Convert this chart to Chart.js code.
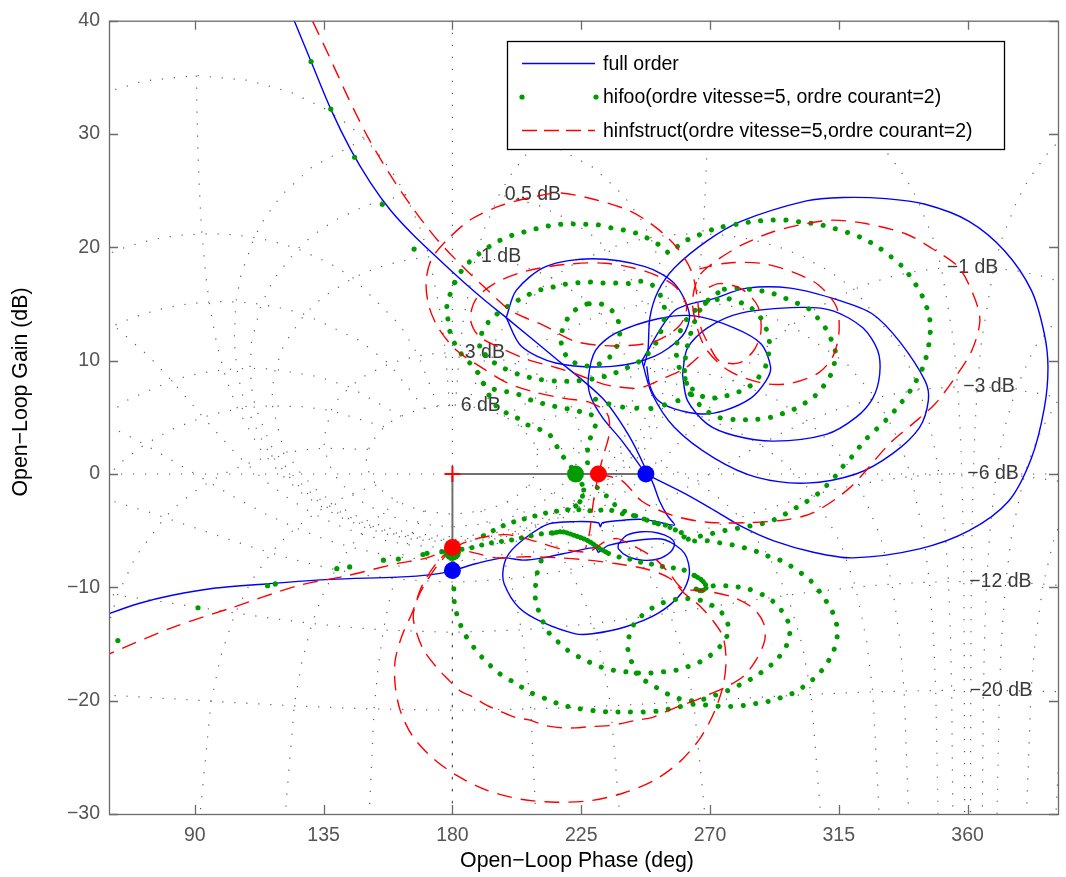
<!DOCTYPE html>
<html><head><meta charset="utf-8">
<script src="https://cdn.jsdelivr.net/npm/chart.js"></script>
<style>html,body{margin:0;padding:0;background:#fff;overflow:hidden;width:1066px;height:877px}canvas{display:block}</style>
</head><body>
<canvas id="c" width="1068" height="877" style="width:1068px;height:877px"></canvas>
<script>
// ---------------- axis ticks ----------------
const xTicks = [90, 135, 180, 225, 270, 315, 360];
const yTicks = [-30, -20, -10, 0, 10, 20, 30, 40];
const legendNames = ['full order', 'hifoo(ordre vitesse=5, ordre courant=2)', 'hinfstruct(ordre vitesse=5,ordre courant=2)'];

// ---------------- stability margin markers ----------------
const marginPhaseAt0dB = { full: 247.6, hifoo: 223.0, hinf: 231.0 };
const marginGainAt180 = { full: -8.52, hifoo: -6.9, hinf: -6.49 };

// ---------------- full order (blue) [phase deg, gain dB] ----------------
const fullOrderBranch = [[121.3,42.1],[124.4,40.2],[130.6,36.4],[137.5,32.2],[144.5,28.6],[151.4,25.7],[158.3,23.3],[165.9,21.2],[174.6,19.1],[183.2,17.1],[191.9,15.2],[198.8,13.8],[216.1,10.2],[232.4,6.7],[241.4,3.5],[247.3,0.55],[247.6,0],[249.7,-0.6],[252.4,-2.4],[255.2,-3.7],[257.6,-4.5],[253.1,-4.3],[246.2,-4.0],[238.6,-4.1],[232.4,-4.3],[231.7,-4.65],[231.0,-4.3],[223.0,-4.2],[213.7,-4.4],[205.7,-5.6],[199.8,-7.0],[197.8,-8.3],[198.1,-9.7],[203.3,-11.8],[211.6,-13.1],[223.0,-14.1],[228.9,-14.1],[240.3,-13.5],[251.8,-12.3],[260.1,-10.5],[262.8,-8.8],[261.1,-7.0],[254.2,-5.8],[246.2,-5.8],[234.5,-6.3],[231.0,-6.9],[230.0,-6.5],[223.0,-6.8],[211.6,-7.4],[204.7,-7.6],[197.8,-7.4],[188.4,-7.9],[180.0,-8.52],[172.1,-8.9],[160.7,-9.1],[137.5,-9.3],[114.7,-9.7],[96.0,-10.1],[82.1,-10.7],[70.7,-11.4],[60.3,-12.3],[56.9,-12.7]];
const fullOrderLoopSmall = [[238.0,-6.15],[241.0,-5.4],[246.2,-5.1],[251.8,-5.2],[255.9,-5.6],[257.6,-6.15],[256.3,-6.85],[251.8,-7.5],[246.2,-7.6],[241.4,-7.3],[238.0,-6.6],[238.0,-6.15]];
const fullOrderLoopOuter = [[247.6,0],[261.1,-1.7],[271.5,-3.2],[280.8,-4.6],[292.3,-5.9],[306.1,-6.9],[319.9,-7.4],[343.2,-6.6],[360.5,-5.0],[374.3,-2.4],[382.3,1.4],[386.8,5.8],[388.1,9.4],[386.8,12.4],[382.3,16.2],[372.9,19.7],[360.5,22.3],[345.2,23.8],[331.4,24.3],[316.5,24.4],[303.7,24.1],[280.8,22.3],[269.1,20.6],[257.6,18.2],[251.8,16.1],[249.0,13.8],[248.3,10.9],[246.9,9.5]];
const fullOrderLoopC = [[246.2,10.0],[257.6,14.4],[271.5,15.5],[282.9,16.4],[298.1,16.4],[315.4,15.3],[326.9,14.1],[336.2,11.7],[345.2,8.2],[346.3,6.5],[343.2,4.1],[333.8,1.8],[321.0,0.0],[303.7,-0.8],[286.4,-0.3],[271.5,1.4],[257.6,4.1],[249.7,7.1],[246.2,10.0]];
const fullOrderLoopD = [[260.4,8.8],[262.1,11.1],[269.1,12.9],[280.8,14.2],[301.6,14.7],[313.0,14.4],[323.4,12.9],[328.6,10.9],[329.3,8.8],[326.9,6.7],[321.0,5.0],[310.6,3.5],[292.3,2.9],[278.4,3.4],[269.1,4.4],[262.1,6.5],[260.4,8.8]];
const fullOrderLoop2 = [[247.6,0],[239.3,2.9],[232.4,5.0],[228.2,6.9],[227.5,8.5],[230.0,10.9],[236.9,12.4],[251.8,13.7],[264.6,13.95],[278.4,12.9],[287.8,11.5],[291.2,9.4],[289.5,8.2],[284.3,6.7],[275.0,5.6],[267.0,5.3],[257.6,5.75],[251.8,6.5],[249.0,7.8],[247.9,9.5]];
const fullOrderLoop1 = [[198.8,13.8],[202.3,16.2],[212.6,18.3],[228.9,19.0],[247.3,18.3],[257.6,16.8],[262.8,14.1],[260.4,12.2],[250.7,10.4],[235.8,9.5],[216.1,9.8],[204.0,11.3],[198.8,13.8]];

// ---------------- hinfstruct (red dashed) ----------------
const hinfTop = [[127.8,41.9],[129.6,40.8],[136.5,37.1],[143.4,33.3],[150.3,29.8],[158.0,26.5],[165.9,23.55],[174.6,20.7],[183.2,18.4],[192.6,16.15],[200.5,14.4],[212.0,13.1],[223.0,11.7],[236.9,11.3],[250.7,11.7],[259.4,13.1],[261.8,14.8],[257.6,16.6],[247.3,17.9],[233.4,18.6],[219.6,18.5],[205.7,17.9],[195.3,16.9],[188.4,15.5],[186.3,13.7],[189.1,12.2],[195.3,11.3],[205.7,10.15],[216.1,9.4],[223.0,8.85],[232.4,7.95],[237.6,7.7],[245.5,7.6],[254.2,8.5],[261.1,9.3],[266.3,10.4]];
const hinfLoopA = [[231.0,0.0],[232.7,1.6],[234.8,3.6],[234.1,5.3],[228.2,6.3],[218.5,6.7],[209.2,7.2],[199.5,8.0],[190.8,9.3],[181.5,10.9],[175.3,12.8],[171.8,14.8],[170.8,17.0],[172.8,19.0],[178.7,20.8],[186.7,22.5],[197.1,23.7],[209.2,24.5],[217.8,24.8],[230.0,24.2],[242.1,23.2],[251.4,21.7],[258.7,19.9],[263.5,17.9],[265.6,15.5],[266.6,13.1],[269.8,11.3],[273.2,10.0],[280.1,9.8],[285.3,10.9],[287.8,12.6],[286.7,14.8],[281.2,16.3],[273.2,16.8],[266.3,16.0]];
const hinfLoopC = [[231.0,0.0],[239.3,-0.6],[246.2,-2.4],[257.6,-3.7],[271.5,-4.3],[294.7,-4.1],[306.1,-3.4],[318.9,-1.2],[332.8,2.7],[340.7,4.4],[348.7,6.2],[355.6,8.5],[361.5,10.9],[364.3,13.5],[362.5,15.5],[357.0,18.2],[347.6,19.9],[338.3,21.2],[324.4,22.1],[313.0,22.4],[303.7,22.1],[292.3,21.4],[281.9,20.3],[273.2,19.0],[266.3,17.5],[263.9,15.3],[265.3,13.1],[268.7,11.0],[276.7,9.1],[288.8,8.0],[298.1,8.0],[307.8,8.9],[313.0,10.4],[315.1,12.6],[314.1,14.8],[307.8,16.7],[299.2,17.8],[287.8,18.6],[275.6,18.6],[266.3,18.1]];
const hinfDrop = [[231.0,0.0],[229.6,-1.9],[228.6,-3.7],[227.9,-5.2],[226.5,-6.6]];
const hinfLeft = [[56.9,-16.2],[60.3,-15.85],[82.1,-13.55],[102.9,-11.8],[126.1,-9.85],[143.4,-8.96],[160.7,-7.9],[171.1,-7.4],[180.0,-6.49]];
const hinfLowUpper = [[180.0,-6.49],[188.4,-5.7],[198.8,-5.35],[209.2,-5.95],[217.8,-6.6],[227.5,-6.85],[233.4,-5.95],[237.6,-5.7],[242.1,-6.2],[247.3,-6.9],[251.4,-7.6],[255.9,-8.8],[260.4,-10.1],[268.0,-10.3],[278.4,-10.9],[285.3,-11.9],[288.8,-13.2],[289.1,-14.7],[286.0,-16.45],[281.9,-17.8],[276.0,-18.75],[269.1,-19.5],[264.6,-20.0],[260.1,-20.4],[255.2,-20.9],[249.7,-21.5],[244.8,-21.7],[239.3,-22.0],[234.5,-22.2],[227.5,-22.3],[223.0,-22.4],[218.5,-22.4],[212.6,-22.2],[206.8,-21.7],[202.3,-21.5],[196.4,-20.9],[191.9,-20.4],[187.4,-19.7],[182.5,-19.1],[178.0,-18.0],[174.6,-17.1],[170.1,-15.6],[167.6,-14.1],[166.3,-12.5],[168.3,-10.7],[173.5,-8.5],[180.0,-6.49]];
const hinfLowLower = [[180.0,-6.49],[174.6,-7.8],[169.4,-9.85],[166.0,-12.2],[162.4,-14.25],[160.0,-16.45],[160.0,-18.65],[161.8,-20.9],[166.0,-23.1],[172.8,-25.0],[181.5,-26.6],[191.9,-27.9],[204.0,-28.7],[216.1,-28.96],[228.9,-28.8],[240.3,-28.1],[250.7,-27.0],[259.4,-25.4],[266.6,-23.3],[271.5,-21.0],[274.6,-18.65],[275.6,-16.45],[274.6,-14.4],[271.5,-13.1],[266.3,-11.6],[261.1,-10.55],[255.9,-9.2],[248.0,-8.4],[236.9,-7.9],[227.5,-7.6],[217.8,-7.4],[205.7,-7.3],[195.3,-7.4],[188.4,-7.0],[180.0,-6.49]];

// ---------------- hifoo (green dots) ----------------
const hifooAsymTop = [[130.6,36.4],[137.5,32.2],[145.8,27.95],[155.5,23.8],[166.6,19.85]];
const hifooAsymLeft = [[63.1,-14.7],[91.1,-11.8],[115.4,-9.85],[118.1,-9.7],[139.6,-8.35],[144.1,-8.2],[155.9,-7.6],[161.1,-7.5],[169.7,-7.1],[171.1,-7.0],[176.3,-6.85]];
const hifooOuter = [[180.8,16.9],[183.9,18.2],[187.7,19.1],[191.9,19.9],[196.4,20.6],[201.2,21.1],[205.7,21.4],[210.2,21.7],[216.1,22.0],[220.6,22.05],[225.5,22.05],[230.6,22.0],[235.8,21.7],[240.3,21.5],[244.8,21.2],[249.7,20.6],[253.5,20.0],[255.9,19.5],[260.1,20.4],[265.3,21.0],[272.5,21.7],[280.8,22.1],[286.0,22.3],[291.6,22.4],[296.8,22.4],[302.6,22.2],[307.8,22.05],[313.0,21.7],[318.2,21.3],[323.4,20.8],[328.3,20.1],[333.1,19.2],[337.6,18.2],[341.4,16.9],[343.8,15.9],[345.6,14.8],[346.6,14.0],[347.0,12.9],[346.6,11.6],[345.2,10.0],[344.2,9.3],[341.8,8.1],[340.4,7.5],[335.9,6.0],[332.4,5.0],[329.6,4.3],[326.5,3.55],[323.4,2.8],[320.6,1.8],[317.2,0.9],[314.8,0.1],[312.3,-0.6],[308.2,-1.65],[303.3,-2.5],[298.5,-3.2],[294.0,-3.85],[289.5,-4.3],[284.6,-4.55],[279.5,-4.8],[275.0,-5.0],[269.8,-5.3],[264.6,-5.6],[260.1,-5.9]];
const hifooLeftSide = [[180.8,16.9],[178.7,15.5],[178.0,14.65],[178.4,13.7],[179.1,12.6],[180.8,11.5],[184.3,10.2],[187.7,9.4],[190.8,8.0],[192.9,6.9],[195.3,6.0],[198.8,5.4],[202.3,5.0],[205.7,4.4],[209.2,4.1],[211.6,3.8],[213.7,3.55],[215.4,2.9],[216.8,2.3],[218.5,1.6],[220.3,1.0],[222.0,0.45]];
const hifooLeftBottom = [[190.8,8.0],[194.3,7.5],[198.1,7.3],[202.3,7.1],[208.2,6.45],[213.7,6.1],[218.5,5.8],[222.0,5.7],[224.8,5.5],[227.5,5.4],[229.3,5.0],[230.0,4.4],[228.9,3.55],[227.5,2.75],[227.2,1.8],[227.2,0.9]];
const hifooMidRow = [[230.0,6.6],[234.5,6.2],[239.6,5.9],[244.8,5.8],[250.0,5.8],[255.2,6.2],[261.1,6.7],[264.6,7.4]];
const hifooLoopB = [[189.5,11.3],[190.5,12.6],[193.6,13.7],[197.1,14.4],[200.5,15.0],[205.0,15.6],[209.2,16.15],[213.7,16.4],[218.2,16.7],[223.0,16.85],[227.5,16.94],[232.0,16.85],[236.9,16.85],[241.4,16.8],[245.9,17.0],[249.7,16.7],[252.8,15.7],[254.2,14.4],[253.5,13.1],[251.4,11.7],[248.3,10.6],[244.5,9.8],[240.3,9.3],[235.1,8.75],[229.3,8.4],[223.0,8.2],[216.1,8.2],[209.2,8.4],[203.0,8.8],[197.1,9.45],[192.6,10.2],[189.5,11.3]];
const hifooLoopC = [[227.0,15.0],[222.5,14.4],[219.5,13.4],[218.0,12.2],[218.5,11.0],[221.0,10.1],[225.0,9.6],[230.0,9.6],[234.5,10.2],[237.5,11.3],[238.5,12.6],[237.5,13.8],[234.5,14.7],[230.5,15.1],[227.0,15.0]];
const hifooLoopE = [[275.0,16.3],[279.5,16.4],[283.6,16.3],[288.1,16.15],[292.3,15.9],[296.4,15.5],[300.2,15.1],[304.4,14.6],[307.5,13.8],[310.3,12.9],[312.3,11.9],[313.7,11.0],[313.7,10.4],[313.4,9.7],[312.3,8.8],[310.3,8.0],[308.9,7.5],[305.4,6.6],[302.0,6.1],[298.5,5.6],[295.0,5.3],[291.2,5.0],[285.0,4.8],[278.8,4.8],[272.9,5.0],[268.7,5.6],[264.6,6.6],[262.1,7.8],[261.1,9.1],[261.8,10.9],[263.5,12.6],[266.3,14.4],[270.4,15.6],[275.0,16.3]];
const hifooLoopF = [[276.7,15.45],[282.9,14.9],[287.1,14.0],[289.5,12.9],[290.5,12.0],[290.9,11.3],[290.5,10.6],[289.8,9.7],[286.0,8.2],[282.9,7.6],[279.5,7.2],[273.9,6.8],[269.1,6.7],[264.6,7.3],[261.1,8.5],[258.7,9.8],[258.3,11.3],[260.4,13.1],[264.6,14.4],[270.4,15.3],[276.7,15.45]];
const hifooHeartA = [[180.0,-6.9],[181.5,-6.7],[184.9,-6.6],[188.4,-6.4],[191.9,-6.15],[197.1,-5.95],[201.2,-5.8],[206.4,-5.5],[211.6,-5.26],[215.1,-5.2]];
const hifooHeartB = [[215.1,-5.2],[218.5,-5.1],[223.0,-5.45],[227.5,-5.9],[231.0,-6.5],[234.5,-7.0]];
const hifooHeartC = [[234.5,-7.0],[239.3,-7.4],[242.8,-7.55],[246.2,-7.8],[250.7,-8.0],[254.2,-8.2],[257.6,-8.3],[261.1,-8.5],[264.6,-8.96]];
const hifooHeartD = [[264.6,-8.96],[267.3,-9.4],[268.7,-10.0],[267.0,-10.3],[264.6,-10.1]];
const hifooUpperRow = [[190.8,-5.45],[197.8,-4.55],[203.0,-4.1],[207.5,-3.8],[211.6,-3.5],[216.1,-3.3],[220.3,-3.15],[224.8,-3.15],[229.3,-3.25],[234.5,-3.15],[239.3,-3.5],[243.8,-3.7],[247.3,-4.0],[250.7,-4.3],[254.9,-4.55],[258.3,-5.0],[261.1,-5.6]];
const hifooDiag = [[230.6,-1.2],[234.5,-2.1],[238.0,-3.0],[242.1,-3.5],[246.6,-3.95],[250.7,-4.3],[255.9,-4.7],[261.1,-5.3]];
const hifooTail = [[223.0,0],[225.8,-1.2],[225.5,-1.9],[224.1,-2.6],[221.5,-3.1]];
const hifooOuterLow = [[264.6,-5.9],[269.8,-5.9],[273.9,-6.1],[278.8,-6.3],[283.3,-6.6],[286.4,-6.85],[289.8,-7.2],[294.0,-7.55],[298.1,-8.1],[305.1,-9.4],[309.2,-10.7],[312.0,-11.8],[313.7,-12.7],[314.4,-13.6],[314.4,-14.4],[313.0,-15.75],[310.6,-16.8],[307.5,-17.8],[304.0,-18.5],[300.2,-19.2],[296.1,-19.6],[291.6,-20.0],[287.1,-20.2],[282.9,-20.4],[277.7,-20.5],[273.9,-20.5],[269.1,-20.4],[264.6,-20.3],[258.3,-20.6],[252.5,-20.9],[246.6,-21.0],[241.0,-21.0],[235.1,-21.0],[230.0,-20.9],[224.1,-20.7],[218.5,-20.4],[213.3,-19.9],[207.5,-19.3],[202.3,-18.5],[196.4,-17.6],[191.2,-16.4],[188.4,-15.6],[184.6,-14.25],[182.5,-13.1],[180.8,-11.6],[180.5,-10.3],[180.5,-8.96],[180.1,-7.6]];
const hifooSpiralLow = [[267.0,-10.3],[271.5,-9.85],[277.4,-9.9],[282.9,-10.1],[288.8,-10.7],[292.3,-11.3],[295.0,-12.05],[296.8,-12.75],[297.8,-13.5],[297.8,-14.25],[296.8,-15.1],[294.0,-16.2],[291.6,-16.8],[288.5,-17.4],[285.3,-17.95],[281.2,-18.5],[276.3,-19.1],[270.8,-19.6],[265.6,-20.0],[260.4,-19.9],[255.9,-19.5],[252.4,-19.0],[248.3,-18.4],[244.8,-17.8],[242.8,-16.7],[241.4,-15.6],[241.4,-14.8],[242.1,-14.0],[243.8,-13.1],[246.2,-12.5],[250.0,-11.8],[254.2,-11.3],[260.1,-11.0],[266.0,-11.1],[270.8,-11.6],[274.3,-12.3],[276.3,-13.3],[276.0,-14.25],[273.9,-15.1],[271.1,-15.8],[268.0,-16.4],[264.2,-16.8],[260.1,-17.2],[255.9,-17.4],[251.8,-17.5],[247.3,-17.6],[242.8,-17.5],[238.3,-17.4],[234.1,-17.2],[229.6,-16.8],[225.5,-16.3],[221.3,-15.75],[217.5,-14.95],[214.0,-14.1],[211.6,-13.0],[209.5,-11.6],[208.8,-10.5],[209.2,-9.6],[209.9,-8.4],[211.6,-7.3]];

// ---------------- Nichols grid definition (MATLAB ngrid values) ----------------
const ngridClosedLoopPhases = [1, 5, 10, 20, 30, 50, 90, 120, 150, 180];
const ngridPhaseLineGains = [6,3,2,1,0.75,0.5,0.4,0.3,0.25,0.2,0.15,0.1,0.05,0,-0.05,-0.1,-0.15,-0.2,-0.25,-0.3,-0.4,-0.5,-0.75,-1,-2,-3,-4,-5,-6,-9,-12,-16,-20,-30,-40,-50,-60,-70,-80,-90,-100,-110,-120];
const ngridClosedLoopGains = [6, 3, 1, 0.5, 0.25, 0, -1, -3, -6, -12, -20, -40];
const ngridGainLinePhases = [1,2,3,4,5,7.5,10,15,20,25,30,45,60,75,90,105,120,135,150,175,180];

// ---------------- helpers ----------------
const FONT = "'Liberation Sans', Arial, Helvetica, sans-serif";
const COL = { blue:'#0000ff', red:'#ff0000', green:'rgb(0,155,0)', grid:'rgba(75,75,75,0.9)', axis:'#6b6b6b', tick:'#555555' };
const xy = arr => arr.map(p => ({ x: p[0], y: p[1] }));
const minus = v => (v < 0 ? '\u2212' + Math.abs(v) : String(v));

// closed-loop (gain dB, phase deg) -> open-loop point on Nichols axes
function olPoint(gdB, pdeg) {
  const m = Math.pow(10, gdB / 20), p = pdeg * Math.PI / 180;
  const zr = m * Math.cos(p), zi = m * Math.sin(p);
  const dr = 1 - zr, di = -zi, den = dr * dr + di * di;
  const hr = (zr * dr + zi * di) / den, hi = (zi * dr - zr * di) / den;
  let ph = Math.atan2(hi, hr) * 180 / Math.PI;
  ph = ((ph % 360) + 360) % 360;
  return { x: ph, y: 20 * Math.log10(Math.hypot(hr, hi)) };
}

const gridSets = [];
function addGrid(points) {
  gridSets.push({ data: points, showLine: true, pointRadius: 0, pointHoverRadius: 0, borderColor: COL.grid,
    borderWidth: 1.2, borderDash: [1.2, 10.8], tension: 0, order: 20 });
}
ngridClosedLoopPhases.forEach(p => {
  const left = ngridPhaseLineGains.map(g => olPoint(g, p));
  addGrid(left);
  addGrid(left.map(q => ({ x: q.x + 360, y: q.y })));
  addGrid(left.map(q => ({ x: 360 - q.x, y: q.y })));
});
const gainLinePhasesFull = ngridGainLinePhases.concat(ngridGainLinePhases.slice(0, -1).reverse().map(p => 360 - p));
ngridClosedLoopGains.forEach(g => {
  const pts = gainLinePhasesFull.map(p => olPoint(g, p));
  addGrid(pts);
  addGrid(pts.map(q => ({ x: q.x + 360, y: q.y })));
});
addGrid([{ x: 180, y: -30 }, { x: 180, y: 40 }]);
addGrid([{ x: 60, y: 0 }, { x: 392, y: 0 }]);

function lineSet(data, color, dash, order) {
  return { data: xy(data), showLine: true, pointRadius: 0, pointHoverRadius: 0, borderColor: color,
    borderWidth: 1.4, borderDash: dash || [], tension: 0.3, order: order };
}
function dotSet(data, spacing) {
  return { data: xy(data), showLine: true, pointRadius: 0, pointHoverRadius: 0, borderColor: COL.green,
    borderWidth: 5, borderDash: [0.1, spacing || 12.5], borderCapStyle: 'round', tension: 0.3, order: 6 };
}
function scatterDots(data) {
  return { data: xy(data), showLine: false, pointRadius: 2.6, pointBorderWidth: 0,
    pointBackgroundColor: COL.green, pointBorderColor: COL.green, order: 6 };
}
function marker(pts, color, order) {
  return { data: xy(pts), showLine: false, pointRadius: 8.5, pointBorderWidth: 0,
    pointBackgroundColor: color, pointBorderColor: color, order: order };
}

const datasets = [
  ...[fullOrderBranch, fullOrderLoopSmall, fullOrderLoopOuter, fullOrderLoopC, fullOrderLoopD, fullOrderLoop2, fullOrderLoop1]
    .map(d => lineSet(d, COL.blue, [], 7)),
  dotSet(hifooOuter), dotSet(hifooLeftSide), dotSet(hifooLeftBottom), dotSet(hifooMidRow, 14), dotSet(hifooLoopB), dotSet(hifooLoopC),
  dotSet(hifooLoopE), dotSet(hifooLoopF), dotSet(hifooHeartA, 10), dotSet(hifooHeartB, 3.5), dotSet(hifooHeartC, 11),
  dotSet(hifooHeartD, 3.5), dotSet(hifooUpperRow, 11), dotSet(hifooDiag, 12),
  dotSet(hifooTail, 6), dotSet(hifooOuterLow), dotSet(hifooSpiralLow),
  scatterDots(hifooAsymTop), scatterDots(hifooAsymLeft),
  ...[hinfTop, hinfLoopA, hinfLoopC, hinfDrop, hinfLeft, hinfLowUpper, hinfLowLower].map(d => lineSet(d, COL.red, [15, 9], 5)),
  { data: xy([[180, 0], [marginPhaseAt0dB.full, 0]]), showLine: true, pointRadius: 0, borderColor: '#707070', borderWidth: 2, order: 4 },
  { data: xy([[180, 0], [180, marginGainAt180.full]]), showLine: true, pointRadius: 0, borderColor: '#707070', borderWidth: 2, order: 4 },
  marker([[marginPhaseAt0dB.hifoo, 0], [180, marginGainAt180.hifoo]], COL.green, 3),
  marker([[marginPhaseAt0dB.hinf, 0], [180, marginGainAt180.hinf]], COL.red, 2),
  marker([[marginPhaseAt0dB.full, 0], [180, marginGainAt180.full]], COL.blue, 1),
  { data: xy([[180, 0]]), showLine: false, pointStyle: 'cross', pointRadius: 8, pointBorderWidth: 2, pointBorderColor: COL.red, order: 0 },
  ...gridSets
];

// ---------------- plugins ----------------
const gridLabels = {
  id: 'gridLabels',
  beforeDatasetsDraw(chart) {
    const { ctx, chartArea: a, scales: { x, y } } = chart;
    ctx.save();
    ctx.beginPath(); ctx.rect(a.left, a.top, a.right - a.left, a.bottom - a.top); ctx.clip();
    ctx.font = '19.5px ' + FONT; ctx.fillStyle = '#3a3a3a'; ctx.textAlign = 'left'; ctx.textBaseline = 'middle';
    ngridClosedLoopGains.forEach(g => {
      const q = olPoint(g, 359);
      ctx.fillText(' ' + minus(g) + ' dB', x.getPixelForValue(q.x), y.getPixelForValue(q.y));
    });
    ctx.restore();
  }
};
const frame = {
  id: 'frame',
  afterDatasetsDraw(chart) {
    const { ctx, chartArea: a, scales: { x, y } } = chart;
    ctx.save();
    ctx.strokeStyle = COL.axis; ctx.lineWidth = 1.3;
    ctx.strokeRect(a.left + 0.5, a.top + 0.5, a.right - a.left, a.bottom - a.top);
    ctx.beginPath();
    xTicks.forEach(v => { const p = Math.round(x.getPixelForValue(v)) + 0.5;
      ctx.moveTo(p, a.bottom); ctx.lineTo(p, a.bottom - 9); ctx.moveTo(p, a.top); ctx.lineTo(p, a.top + 9); });
    yTicks.forEach(v => { const p = Math.round(y.getPixelForValue(v)) + 0.5;
      ctx.moveTo(a.left, p); ctx.lineTo(a.left + 9, p); ctx.moveTo(a.right, p); ctx.lineTo(a.right - 9, p); });
    ctx.stroke();
    ctx.restore();
  },
  afterDraw(chart) {
    const { ctx } = chart;
    ctx.save();
    // axis titles
    ctx.fillStyle = '#000'; ctx.font = '21.3px ' + FONT; ctx.textAlign = 'center'; ctx.textBaseline = 'middle';
    ctx.fillText('Open\u2212Loop Phase (deg)', 577, 861);
    ctx.translate(21, 392); ctx.rotate(-Math.PI / 2);
    ctx.fillText('Open\u2212Loop Gain (dB)', 0, 0);
    ctx.setTransform(1, 0, 0, 1, 0, 0);
    // legend
    const L = { x: 507, y: 41, w: 497, h: 108 };
    ctx.fillStyle = '#fff'; ctx.fillRect(L.x, L.y, L.w, L.h);
    ctx.strokeStyle = '#000'; ctx.lineWidth = 1.3; ctx.strokeRect(L.x + 0.5, L.y + 0.5, L.w, L.h);
    const rows = [63.5, 97, 130.5];
    ctx.lineWidth = 1.4;
    ctx.strokeStyle = COL.blue; ctx.setLineDash([]);
    ctx.beginPath(); ctx.moveTo(522, rows[0]); ctx.lineTo(595, rows[0]); ctx.stroke();
    ctx.fillStyle = COL.green;
    [522, 596].forEach(px => { ctx.beginPath(); ctx.arc(px, rows[1], 2.6, 0, Math.PI * 2); ctx.fill(); });
    ctx.strokeStyle = COL.red; ctx.setLineDash([15, 7]);
    ctx.beginPath(); ctx.moveTo(522, rows[2]); ctx.lineTo(595, rows[2]); ctx.stroke();
    ctx.setLineDash([]);
    ctx.fillStyle = '#000'; ctx.font = '19.5px ' + FONT; ctx.textAlign = 'left'; ctx.textBaseline = 'middle';
    legendNames.forEach((t, i) => ctx.fillText(t, 603, rows[i] + 1));
    ctx.restore();
  }
};

Chart.defaults.font.family = FONT;
new Chart(document.getElementById('c'), {
  type: 'scatter',
  data: { datasets },
  options: {
    responsive: false, animation: false, devicePixelRatio: 1, events: [],
    layout: { padding: { top: 18, right: 1, left: 0, bottom: 0 } },
    plugins: { legend: { display: false }, tooltip: { enabled: false } },
    scales: {
      x: { type: 'linear', min: 60, max: 391.6,
        grid: { display: false, drawTicks: false }, border: { display: false },
        afterBuildTicks: s => { s.ticks = xTicks.map(v => ({ value: v })); },
        afterFit: s => { s.height = 63; },
        ticks: { autoSkip: false, maxRotation: 0, padding: 10, color: COL.tick, font: { size: 19.5 }, callback: v => minus(v) } },
      y: { type: 'linear', min: -30, max: 40,
        grid: { display: false, drawTicks: false }, border: { display: false },
        afterBuildTicks: s => { s.ticks = yTicks.map(v => ({ value: v })); },
        afterFit: s => { s.width = 109; },
        ticks: { autoSkip: false, padding: 9, color: COL.tick, font: { size: 19.5 }, callback: v => minus(v) } }
    }
  },
  plugins: [gridLabels, frame]
});
</script>
</body></html>
